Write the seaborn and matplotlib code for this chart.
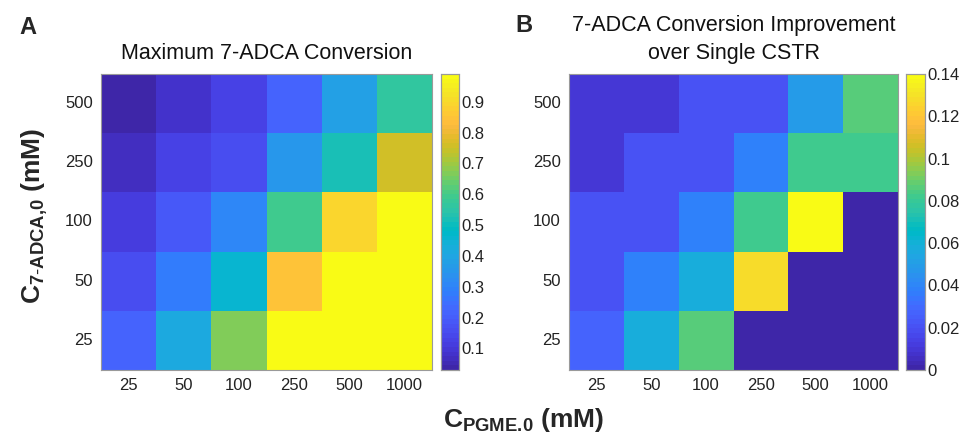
import numpy as np
import pandas as pd
import matplotlib
matplotlib.use("Agg")
import matplotlib.pyplot as plt
import seaborn as sns
from matplotlib.colors import ListedColormap

# ---------------- data ----------------
pgme = [25, 50, 100, 250, 500, 1000]          # columns (x)
adca = [500, 250, 100, 50, 25]                # rows (y), top to bottom

max_conv = [
    [0.03, 0.08, 0.12, 0.21, 0.38, 0.56],
    [0.06, 0.12, 0.16, 0.35, 0.51, 0.76],
    [0.11, 0.18, 0.30, 0.59, 0.89, 0.99],
    [0.15, 0.28, 0.45, 0.84, 0.98, 0.99],
    [0.21, 0.41, 0.67, 0.98, 0.99, 0.99],
]

improvement = [
    [0.010, 0.010, 0.020, 0.020, 0.050, 0.087],
    [0.010, 0.020, 0.020, 0.038, 0.081, 0.081],
    [0.020, 0.020, 0.038, 0.081, 0.140, 0.000],
    [0.020, 0.038, 0.059, 0.129, 0.000, 0.000],
    [0.027, 0.059, 0.087, 0.000, 0.000, 0.000],
]

left_cbar_ticks = [0.1, 0.2, 0.3, 0.4, 0.5, 0.6, 0.7, 0.8, 0.9]
right_cbar_ticks = [0, 0.02, 0.04, 0.06, 0.08, 0.1, 0.12, 0.14]
right_cbar_labels = ["0", "0.02", "0.04", "0.06", "0.08", "0.1", "0.12", "0.14"]

# ---------------- parula colormap ----------------
parula_rgb = [
    [0.2422, 0.1504, 0.6603], [0.2504, 0.1650, 0.7076], [0.2578, 0.1818, 0.7511],
    [0.2647, 0.1978, 0.7952], [0.2706, 0.2147, 0.8364], [0.2751, 0.2342, 0.8710],
    [0.2783, 0.2559, 0.8991], [0.2803, 0.2782, 0.9221], [0.2813, 0.3006, 0.9414],
    [0.2810, 0.3228, 0.9579], [0.2795, 0.3447, 0.9717], [0.2760, 0.3667, 0.9829],
    [0.2699, 0.3892, 0.9906], [0.2602, 0.4123, 0.9952], [0.2440, 0.4358, 0.9988],
    [0.2206, 0.4603, 0.9973], [0.1963, 0.4847, 0.9892], [0.1834, 0.5074, 0.9798],
    [0.1786, 0.5289, 0.9682], [0.1764, 0.5499, 0.9520], [0.1687, 0.5703, 0.9359],
    [0.1540, 0.5902, 0.9218], [0.1460, 0.6091, 0.9079], [0.1380, 0.6276, 0.8973],
    [0.1248, 0.6459, 0.8883], [0.1113, 0.6635, 0.8763], [0.0952, 0.6798, 0.8598],
    [0.0689, 0.6948, 0.8394], [0.0297, 0.7082, 0.8163], [0.0036, 0.7203, 0.7917],
    [0.0067, 0.7312, 0.7660], [0.0433, 0.7411, 0.7394], [0.0964, 0.7500, 0.7120],
    [0.1408, 0.7584, 0.6842], [0.1717, 0.7670, 0.6554], [0.1938, 0.7758, 0.6251],
    [0.2161, 0.7843, 0.5923], [0.2470, 0.7918, 0.5567], [0.2906, 0.7973, 0.5188],
    [0.3406, 0.8008, 0.4789], [0.3909, 0.8029, 0.4354], [0.4456, 0.8024, 0.3909],
    [0.5044, 0.7993, 0.3480], [0.5616, 0.7942, 0.3045], [0.6174, 0.7876, 0.2612],
    [0.6720, 0.7793, 0.2227], [0.7242, 0.7698, 0.1910], [0.7738, 0.7598, 0.1646],
    [0.8203, 0.7498, 0.1535], [0.8634, 0.7406, 0.1596], [0.9035, 0.7330, 0.1774],
    [0.9393, 0.7288, 0.2100], [0.9728, 0.7298, 0.2394], [0.9956, 0.7434, 0.2371],
    [0.9970, 0.7659, 0.2199], [0.9952, 0.7893, 0.2028], [0.9892, 0.8136, 0.1885],
    [0.9786, 0.8386, 0.1766], [0.9676, 0.8639, 0.1643], [0.9610, 0.8890, 0.1537],
    [0.9597, 0.9135, 0.1423], [0.9628, 0.9373, 0.1265], [0.9691, 0.9606, 0.1064],
    [0.9769, 0.9839, 0.0805],
]
parula = ListedColormap(parula_rgb, name="parula")

# ---------------- style ----------------
sns.set_theme(style="white")
plt.rcParams["font.family"] = ["Liberation Sans", "DejaVu Sans"]
plt.rcParams["mathtext.fontset"] = "custom"
plt.rcParams["mathtext.rm"] = "Liberation Sans"
plt.rcParams["mathtext.bf"] = "Liberation Sans:bold"
plt.rcParams["mathtext.it"] = "Liberation Sans:italic"

W, H = 960, 441
fig = plt.figure(figsize=(W / 100, H / 100), dpi=100)


def fx(px):
    return px / W


def fy(py):
    return 1 - py / H


def make_axes(x0, x1, cx0, cx1, y0=74, y1=370):
    ax = fig.add_axes([fx(x0), fy(y1), fx(x1 - x0), (y1 - y0) / H])
    cax = fig.add_axes([fx(cx0), fy(y1), fx(cx1 - cx0), (y1 - y0) / H])
    return ax, cax


df_a = pd.DataFrame(max_conv, index=adca, columns=pgme)
df_b = pd.DataFrame(improvement, index=adca, columns=pgme)

axA, caxA = make_axes(101, 432, 441, 459)
axB, caxB = make_axes(569, 898, 906, 925)

sns.heatmap(df_a, ax=axA, cbar_ax=caxA, cmap=parula, vmin=0.03, vmax=0.99,
            cbar_kws={"ticks": left_cbar_ticks})
sns.heatmap(df_b, ax=axB, cbar_ax=caxB, cmap=parula, vmin=0.0, vmax=0.14,
            cbar_kws={"ticks": right_cbar_ticks})
caxB.set_yticklabels(right_cbar_labels)

edge = "#9a9a9a"
for ax in (axA, axB, caxA, caxB):
    for sp in ax.spines.values():
        sp.set_visible(True)
        sp.set_color(edge)
        sp.set_linewidth(0.8)

for ax in (axA, axB):
    ax.set_xlabel("")
    ax.set_ylabel("")
    ax.tick_params(axis="both", length=0, labelsize=12, colors="#222222", pad=6)
    ax.set_yticklabels([str(v) for v in adca], rotation=0)
    ax.set_xticklabels([str(v) for v in pgme], rotation=0)

for cax in (caxA, caxB):
    cax.tick_params(axis="y", direction="in", length=3, width=0.6, color="#555555",
                    labelsize=12, labelcolor="#222222", pad=2)

axA.set_title("Maximum 7-ADCA Conversion", fontsize=15.5, color="#111111", pad=11)
axB.set_title("7-ADCA Conversion Improvement\nover Single CSTR", fontsize=15.5,
              color="#111111", pad=11, linespacing=1.4)

fig.text(fx(28), fy(28), "A", fontsize=17, fontweight="bold", ha="center", va="center")
fig.text(fx(524), fy(25), "B", fontsize=17, fontweight="bold", ha="center", va="center")

fig.text(fx(35), fy(216), r"$\mathbf{C}_{\mathbf{7\text{-}ADCA{,}0}}$ (mM)", rotation=90,
         fontsize=19, fontweight="bold", ha="center", va="center")
fig.text(fx(524), fy(420), r"$\mathbf{C}_{\mathbf{PGME.\!0}}$ (mM)",
         fontsize=19, fontweight="bold", ha="center", va="center")

fig.savefig("out.png", dpi=100)
